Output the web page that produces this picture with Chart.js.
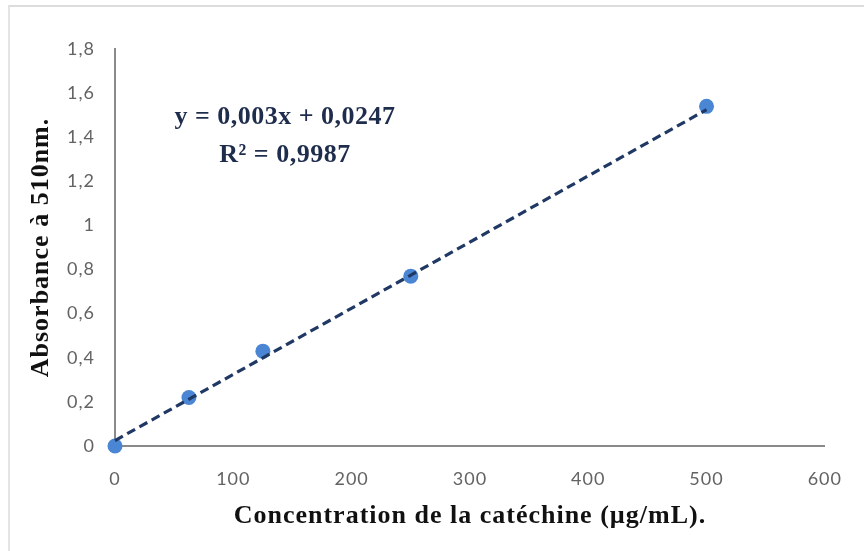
<!DOCTYPE html>
<html>
<head>
<meta charset="utf-8">
<script src="https://cdn.jsdelivr.net/npm/chart.js@4"></script>
<style>
  html, body { margin: 0; padding: 0; background: #ffffff; }
  #wrap { position: relative; width: 864px; height: 551px; overflow: hidden; background: #fff; }
  #frame { position: absolute; left: 8px; top: 5px; right: -10px; bottom: -10px;
           border-top: 2px solid #dcdcdc; border-left: 2px solid #e4e4e4; pointer-events: none; }
  #c { position: absolute; left: 0; top: 0; }
  #eq { position: absolute; left: 135px; top: 97px; width: 300px; text-align: center;
        font-family: "Liberation Serif", "Times New Roman", serif; font-weight: bold;
        font-size: 26px; line-height: 38px; color: #1f2d4d; letter-spacing: 0.5px; }
</style>
</head>
<body>
<div id="wrap">
  <div id="frame"></div>
  <canvas id="c" width="864" height="551"></canvas>
  <div id="eq"><div>y = 0,003x + 0,0247</div><div>R² = 0,9987</div></div>
</div>
<script>
// ---- data ----
const concentrations = [0, 62.5, 125, 250, 500];
const absorbances = [0, 0.22, 0.43, 0.77, 1.54];
const trendX = [0, 500];
const trendY = [0.0247, 1.5247];
const yTickLabels = ['0', '0,2', '0,4', '0,6', '0,8', '1', '1,2', '1,4', '1,6', '1,8'];
const xTickLabels = ['0', '100', '200', '300', '400', '500', '600'];
const xTitle = 'Concentration de la catéchine (µg/mL).';
const yTitle = 'Absorbance à 510nm.';

const points = concentrations.map((x, i) => ({ x: x, y: absorbances[i] }));
const trend = trendX.map((x, i) => ({ x: x, y: trendY[i] }));

const spacingPlugin = {
  id: 'spacing',
  beforeUpdate(chart) { chart.ctx.letterSpacing = '1px'; },
  beforeDraw(chart) { chart.ctx.letterSpacing = '1px'; }
};

new Chart(document.getElementById('c'), {
  type: 'scatter',
  data: {
    datasets: [
      {
        type: 'line',
        label: 'Tendance',
        data: trend,
        borderColor: '#1f3864',
        borderWidth: 3.2,
        borderDash: [9, 5],
        pointRadius: 0,
        fill: false,
        order: 0,
        clip: false
      },
      {
        label: 'Absorbance',
        data: points,
        backgroundColor: '#4a86d4',
        borderColor: '#4a86d4',
        borderWidth: 0,
        pointRadius: 7.5,
        pointHoverRadius: 7.5,
        showLine: false,
        order: 1,
        clip: false
      }
    ]
  },
  options: {
    responsive: false,
    animation: false,
    devicePixelRatio: 1,
    layout: { padding: { left: 0, right: 39, top: 49, bottom: 0 } },
    plugins: { legend: { display: false }, tooltip: { enabled: false } },
    scales: {
      x: {
        type: 'linear',
        min: 0, max: 600,
        afterFit(s) { s.height = 105; },
        grid: { display: false, drawTicks: false },
        border: { display: true, color: '#8a8a8a', width: 2 },
        ticks: {
          stepSize: 100,
          padding: 22,
          color: '#636363',
          font: { family: 'Lato, "Liberation Sans", sans-serif', size: 18 },
          callback: (v, i) => xTickLabels[i]
        },
        title: {
          display: true,
          text: xTitle,
          color: '#111111',
          font: { family: '"Liberation Serif", "Times New Roman", serif', size: 26, weight: 'bold' },
          padding: { top: 0, bottom: 19 }
        }
      },
      y: {
        type: 'linear',
        min: 0, max: 1.8,
        afterFit(s) { s.width = 115; },
        grid: { display: false, drawTicks: false },
        border: { display: true, color: '#8a8a8a', width: 2 },
        ticks: {
          stepSize: 0.2,
          padding: 20,
          color: '#636363',
          font: { family: 'Lato, "Liberation Sans", sans-serif', size: 18 },
          callback: (v, i) => yTickLabels[i]
        },
        title: {
          display: true,
          text: yTitle,
          color: '#111111',
          font: { family: '"Liberation Serif", "Times New Roman", serif', size: 26, weight: 'bold' },
          padding: { top: 26, bottom: 0 }
        }
      }
    }
  },
  plugins: [spacingPlugin]
});
</script>
</body>
</html>
